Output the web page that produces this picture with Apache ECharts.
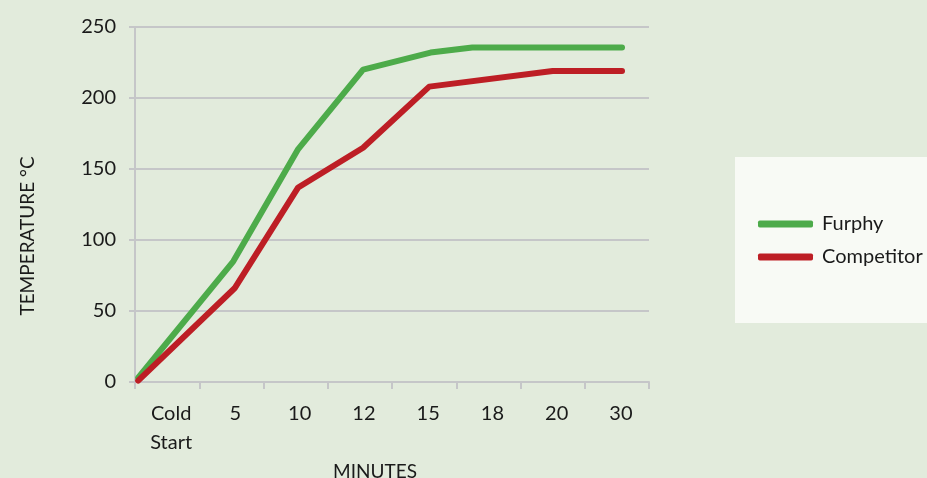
<!DOCTYPE html>
<html>
<head>
<meta charset="utf-8">
<script src="https://cdn.jsdelivr.net/npm/echarts@6/dist/echarts.min.js"></script>
<style>
html,body{margin:0;padding:0;background:#e2ebdc;}
#chart{width:927px;height:478px;}
</style>
</head>
<body>
<div id="chart"></div>
<script>
const categories = ['Cold\nStart', '5', '10', '12', '15', '18', '20', '30'];
const yTicks = [0, 50, 100, 150, 200, 250];
// positions along the minutes axis, measured in category widths from the axis start
const furphyPos = [0.05, 1.53, 2.54, 3.55, 4.6, 5.25, 7.58];
const furphyTemp = [3, 85, 164, 220, 232, 235.5, 235.5];
const competitorPos = [0.05, 1.55, 2.54, 3.55, 4.58, 6.5, 7.58];
const competitorTemp = [1, 66, 137, 165, 208, 219, 219];

const FONT = 'Lato';
const TXT = '#1a1a1a';
const GRAY = '#c5c6c8';

const chart = echarts.init(document.getElementById('chart'));
chart.setOption({
  backgroundColor: '#e2ebdc',
  textStyle: {fontFamily: FONT},
  grid: {left: 135, right: 278, top: 27, bottom: 96, containLabel: false},
  xAxis: [{
    type: 'category',
    data: categories,
    boundaryGap: true,
    axisLine: {lineStyle: {color: GRAY, width: 2}},
    axisTick: {show: true, length: 7, lineStyle: {color: GRAY, width: 2}},
    axisLabel: {fontFamily: FONT, fontSize: 20, color: TXT, margin: 17, lineHeight: 29, interval: 0, padding: [0, 0, 0, 8]}
  }, {
    type: 'value', min: 0, max: categories.length, show: false
  }],
  yAxis: {
    type: 'value', min: yTicks[0], max: yTicks[yTicks.length - 1], interval: 50,
    axisLine: {show: true, lineStyle: {color: GRAY, width: 2}},
    axisTick: {show: true, length: 6, lineStyle: {color: GRAY, width: 2}},
    splitLine: {show: true, lineStyle: {color: GRAY, width: 2}},
    axisLabel: {fontFamily: FONT, fontSize: 20, color: TXT, margin: 19}
  },
  legend: {
    orient: 'vertical',
    left: 735, top: 157,
    backgroundColor: '#f8faf5',
    padding: [57, 5, 56, 23],
    itemGap: 13,
    itemWidth: 55, itemHeight: 7,
    icon: 'roundRect',
    textStyle: {fontFamily: FONT, fontSize: 20, color: TXT, padding: [0, 0, 0, 4]},
    data: ['Furphy', 'Competitor']
  },
  graphic: [{
    type: 'text', x: 375, y: 462,
    style: {text: 'MINUTES', fontFamily: FONT, fontSize: 19, fill: TXT, textAlign: 'center', textVerticalAlign: 'top'}
  }, {
    type: 'text', x: 28, y: 236, rotation: Math.PI / 2,
    style: {text: 'TEMPERATURE °C', fontFamily: FONT, fontSize: 19, fill: TXT, textAlign: 'center', textVerticalAlign: 'middle'}
  }],
  series: [{
    name: 'Furphy', type: 'line', xAxisIndex: 1,
    data: furphyPos.map((p, i) => [p, furphyTemp[i]]),
    symbol: 'none', color: '#4dab4a',
    lineStyle: {width: 6, cap: 'round', join: 'round'}
  }, {
    name: 'Competitor', type: 'line', xAxisIndex: 1,
    data: competitorPos.map((p, i) => [p, competitorTemp[i]]),
    symbol: 'none', color: '#bd1e25',
    lineStyle: {width: 6, cap: 'round', join: 'round'}
  }]
});
</script>
</body>
</html>
